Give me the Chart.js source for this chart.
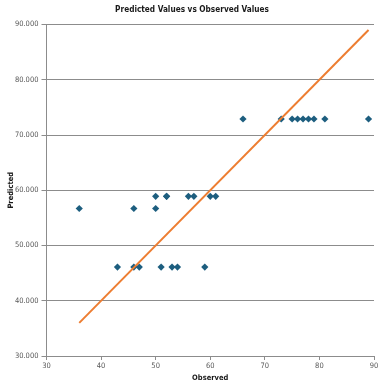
<!DOCTYPE html>
<html>
<head>
<meta charset="utf-8">
<script src="https://cdn.jsdelivr.net/npm/chart.js@4"></script>
<style>
  html, body { margin: 0; padding: 0; background: #fff; }
  #wrap { width: 384px; height: 390px; }
</style>
</head>
<body>
<div id="wrap"><canvas id="scatterChart" width="384" height="390"></canvas></div>
<script>
// Observed / predicted pairs
const observedValues = [
  66, 73, 75, 76, 77, 78, 79, 81, 89,
  50, 52, 52, 56, 57, 60, 61,
  36, 46, 50,
  43, 46, 47, 51, 53, 54, 59,
];
const predictedValues = [
  72.9, 72.9, 72.9, 72.9, 72.9, 72.9, 72.9, 72.9, 72.9,
  58.9, 58.9, 58.9, 58.9, 58.9, 58.9, 58.9,
  56.7, 56.7, 56.7,
  46.1, 46.1, 46.1, 46.1, 46.1, 46.1, 46.1,
];

// Reference line (predicted = observed)
const lineX = [36, 89];
const lineY = [36, 89];

// Axis ranges
const xTicks = [30, 40, 50, 60, 70, 80, 90];
const yTicks = [30, 40, 50, 60, 70, 80, 90];

const fontFamily = "'DejaVu Sans Condensed', 'Liberation Sans Narrow', 'Liberation Sans', Arial, sans-serif";
const gridGray = "#8c8c8c";

const buildData = () => ({
  datasets: [
    {
      label: "Predicted",
      data: observedValues.map((x, i) => ({ x, y: predictedValues[i] })),
      pointStyle: "rectRot",
      pointRadius: 3.6,
      pointHoverRadius: 3.6,
      backgroundColor: "#1d5e7f",
      borderColor: "#1d5e7f",
      borderWidth: 0,
      showLine: false,
      order: 2,
    },
    {
      label: "Fit",
      data: lineX.map((x, i) => ({ x, y: lineY[i] })),
      showLine: true,
      borderColor: "#ed7d31",
      borderWidth: 2,
      pointRadius: 0,
      fill: false,
      order: 1,
    },
  ],
});

document.addEventListener("DOMContentLoaded", () => {
  const ctx = document.getElementById("scatterChart").getContext("2d");
  new Chart(ctx, {
    type: "scatter",
    data: buildData(),
    options: {
      responsive: false,
      animation: false,
      devicePixelRatio: 1,
      layout: { padding: { top: 0, right: 10, bottom: 7, left: 10 } },
      plugins: {
        legend: { display: false },
        tooltip: { enabled: false },
        title: {
          display: true,
          text: "Predicted Values vs Observed Values",
          color: "#1a1a1a",
          font: { family: fontFamily, size: 8.2, weight: "bold" },
          padding: { top: 4.5, bottom: 10.2 },
        },
      },
      scales: {
        x: {
          type: "linear",
          min: xTicks[0],
          max: xTicks[xTicks.length - 1],
          afterBuildTicks: (scale) => {
            scale.ticks = xTicks.map((v) => ({ value: v }));
          },
          afterFit: (scale) => {
            scale.height = 27;
          },
          ticks: {
            color: "#595959",
            font: { family: fontFamily, size: 7.5 },
            padding: 2,
          },
          grid: {
            drawOnChartArea: false,
            drawTicks: true,
            tickLength: 4,
            color: gridGray,
          },
          border: { color: gridGray, width: 1 },
          title: {
            display: true,
            text: "Observed",
            color: "#1a1a1a",
            font: { family: fontFamily, size: 7.5, weight: "bold" },
            padding: { top: 2, bottom: 0 },
          },
        },
        y: {
          type: "linear",
          min: yTicks[0],
          max: yTicks[yTicks.length - 1],
          afterBuildTicks: (scale) => {
            scale.ticks = yTicks.map((v) => ({ value: v }));
          },
          afterFit: (scale) => {
            scale.width = 36.5;
          },
          ticks: {
            color: "#595959",
            font: { family: fontFamily, size: 7.5 },
            padding: 3,
            callback: (v) => Number(v).toFixed(3),
          },
          grid: {
            drawOnChartArea: true,
            drawTicks: true,
            tickLength: 5,
            color: gridGray,
          },
          border: { color: gridGray, width: 1 },
          title: {
            display: true,
            text: "Predicted",
            color: "#1a1a1a",
            font: { family: fontFamily, size: 7.5, weight: "bold" },
            padding: { top: -3, bottom: 2 },
          },
        },
      },
    },
  });
});
</script>
</body>
</html>
